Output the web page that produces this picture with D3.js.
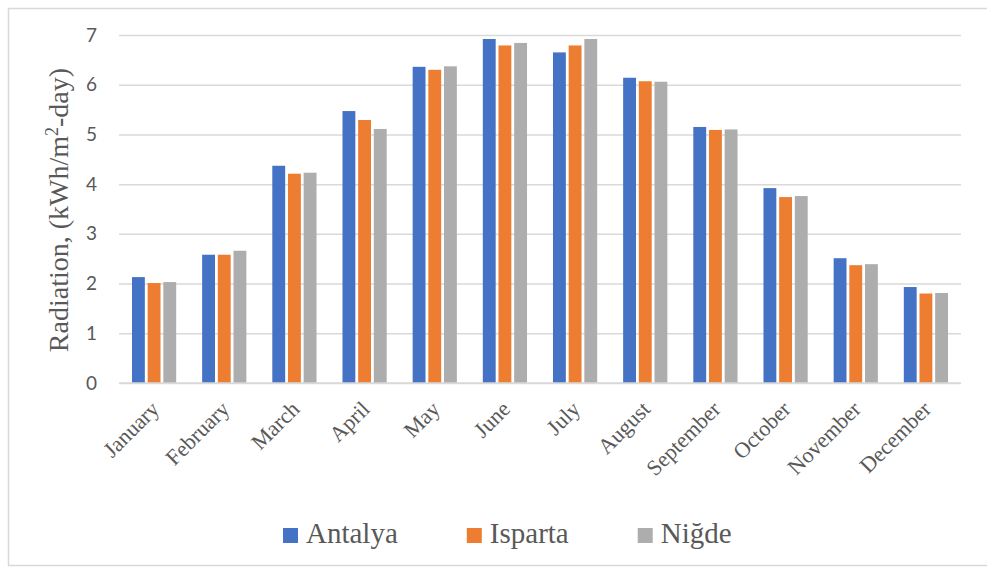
<!DOCTYPE html>
<html>
<head>
<meta charset="utf-8">
<script src="https://cdn.jsdelivr.net/npm/d3@7"></script>
<style>
  body { margin: 0; background: #fff; }
  svg { display: block; }
</style>
</head>
<body>
<div id="chart"></div>
<script>
// data
var months = ["January", "February", "March", "April", "May", "June",
  "July", "August", "September", "October", "November", "December"];
var series = ["Antalya", "Isparta", "Niğde"];
var antalya = [2.13, 2.58, 4.37, 5.47, 6.36, 6.92, 6.65, 6.14, 5.15, 3.92, 2.51, 1.93];
var isparta = [2.01, 2.58, 4.21, 5.29, 6.30, 6.79, 6.79, 6.07, 5.09, 3.74, 2.37, 1.80];
var nigde = [2.03, 2.66, 4.23, 5.11, 6.37, 6.84, 6.92, 6.06, 5.10, 3.76, 2.39, 1.81];
var yTicks = [0, 1, 2, 3, 4, 5, 6, 7];
var colors = ["#4472C4", "#ED7D31", "#ADADAD"];

var values = [antalya, isparta, nigde];
var data = months.map(function (m, i) {
  return { month: m, vals: series.map(function (s, j) { return { key: s, value: values[j][i] }; }) };
});

var serif = "'Liberation Serif', 'Times New Roman', serif";

var W = 987, H = 568;
var svg = d3.select("#chart").append("svg")
  .attr("width", W)
  .attr("height", H);

// outer frame
svg.append("rect")
  .attr("x", 8.5).attr("y", 8.5)
  .attr("width", W).attr("height", 557)
  .attr("fill", "#fff")
  .attr("stroke", "#d9d9d9")
  .attr("stroke-width", 1.5);

var plotL = 119, plotR = 961, plotT = 35, plotB = 383;

var x0 = d3.scaleBand()
  .domain(months)
  .range([plotL, plotR])
  .paddingInner(0.37)
  .paddingOuter(0.185);

var x1 = d3.scaleBand()
  .domain(series)
  .range([0, x0.bandwidth()])
  .paddingInner(0.18);

var color = d3.scaleOrdinal().domain(series).range(colors);

var y = d3.scaleLinear()
  .domain([0, 7])
  .range([plotB, plotT]);

// gridlines + y labels
var yAxis = svg.append("g")
  .attr("transform", "translate(" + plotL + ",0)")
  .call(d3.axisLeft(y).tickValues(yTicks).tickFormat(d3.format("d"))
    .tickSize(-(plotR - plotL)).tickPadding(22));
yAxis.select(".domain").remove();
yAxis.selectAll(".tick line")
  .attr("stroke", "#d9d9d9")
  .attr("stroke-width", 1.5);
yAxis.selectAll(".tick text")
  .attr("fill", "#595959")
  .style("font-family", "Lato, 'Open Sans', sans-serif")
  .style("font-size", "19px");

// bars
var groups = svg.append("g")
  .selectAll("g")
  .data(data)
  .join("g")
  .attr("transform", function (d) { return "translate(" + x0(d.month) + ",0)"; });

groups.selectAll("rect")
  .data(function (d) { return d.vals; })
  .join("rect")
  .attr("x", function (d) { return x1(d.key); })
  .attr("y", function (d) { return y(d.value); })
  .attr("width", x1.bandwidth())
  .attr("height", function (d) { return y(0) - y(d.value); })
  .attr("fill", function (d) { return color(d.key); });

// x axis line
svg.append("line")
  .attr("x1", plotL).attr("x2", plotR)
  .attr("y1", y(0)).attr("y2", y(0))
  .attr("stroke", "#d9d9d9")
  .attr("stroke-width", 1.5);

// month labels, rotated
svg.append("g")
  .selectAll("text")
  .data(months)
  .join("text")
  .attr("transform", function (d) {
    return "translate(" + (x0(d) + x0.bandwidth() / 2 + 1) + "," + (y(0) + 22) + ") rotate(-45)";
  })
  .attr("text-anchor", "end")
  .attr("dy", "0.35em")
  .attr("fill", "#595959")
  .style("font-family", serif)
  .style("font-size", "22px")
  .text(function (d) { return d; });

// y title
var yTitle = svg.append("text")
  .attr("transform", "translate(68," + ((plotT + plotB) / 2 + 1) + ") rotate(-90)")
  .attr("text-anchor", "middle")
  .attr("fill", "#595959")
  .style("font-family", serif)
  .style("font-size", "28px");
yTitle.append("tspan").text("Radiation, (kWh/m");
yTitle.append("tspan").attr("baseline-shift", "super").style("font-size", "18px").text("2");
yTitle.append("tspan").text("-day)");

// legend
var legend = svg.append("g").attr("transform", "translate(283,0)");
var lx = 0;
series.forEach(function (s) {
  var item = legend.append("g").attr("transform", "translate(" + lx + ",0)");
  item.append("rect")
    .attr("x", 0).attr("y", 528)
    .attr("width", 15).attr("height", 15)
    .attr("fill", color(s));
  var t = item.append("text")
    .attr("x", 23).attr("y", 543)
    .attr("fill", "#595959")
    .style("font-family", serif)
    .style("font-size", "29px")
    .text(s);
  lx += 23 + t.node().getComputedTextLength() + 69;
});
</script>
</body>
</html>
